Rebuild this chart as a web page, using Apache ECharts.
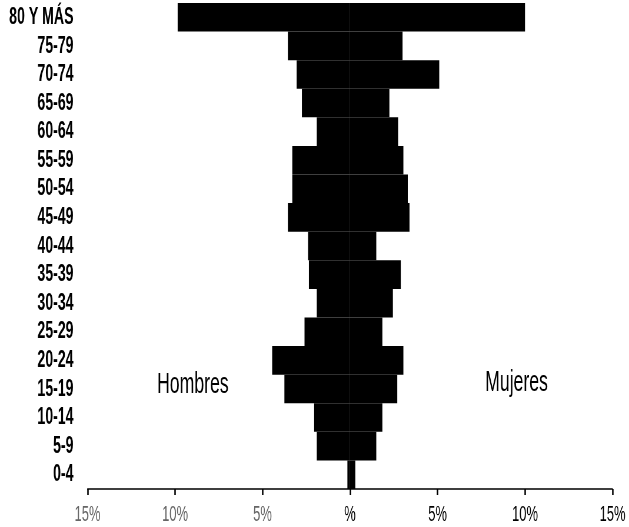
<!DOCTYPE html>
<html>
<head>
<meta charset="utf-8">
<script src="https://cdn.jsdelivr.net/npm/echarts@6/dist/echarts.min.js"></script>
<style>
  html, body { margin: 0; padding: 0; background: #fff; overflow: hidden; }
  /* the original uses a very condensed typeface: draw wider and squeeze horizontally */
  #chart { width: 1069px; height: 527px; transform: scaleX(0.5884); transform-origin: 0 0; }
</style>
</head>
<body>
<div id="chart"></div>
<script>
// grupos de edad, de abajo hacia arriba
const ageGroups = ['0-4', '5-9', '10-14', '15-19', '20-24', '25-29', '30-34', '35-39', '40-44',
  '45-49', '50-54', '55-59', '60-64', '65-69', '70-74', '75-79', '80 Y MÁS'];

// porcentajes
const hombres = [0.15, 1.9, 2.05, 3.75, 4.45, 2.6, 1.9, 2.35, 2.4, 3.55, 3.3, 3.3, 1.9, 2.75, 3.05, 3.55, 9.85];
const mujeres = [0.3, 1.5, 1.85, 2.7, 3.05, 1.85, 2.45, 2.9, 1.5, 3.4, 3.3, 3.05, 2.75, 2.25, 5.1, 3.0, 10.0];

const xTicks = [-15, -10, -5, 0, 5, 10, 15];
const xTickLabels = ['15%', '10%', '5%', '%', '5%', '10%', '15%'];

const font = "'Liberation Sans', Arial, sans-serif";
const k = 1.7; // horizontal stretch undone by the css scale

const chart = echarts.init(document.getElementById('chart'));

chart.setOption({
  backgroundColor: '#fff',
  animation: false,
  grid: { left: 87.5 * k, right: 16.5 * k, top: 3, bottom: 38, outerBoundsMode: 'none', containLabel: false },
  xAxis: {
    type: 'value',
    min: -15,
    max: 15,
    interval: 5,
    splitLine: { show: false },
    axisLine: { show: true, lineStyle: { color: '#000', width: 1.5 } },
    axisTick: { show: true, length: 6, lineStyle: { color: '#000', width: 1.5 * k } },
    axisLabel: {
      margin: 15,
      fontFamily: font,
      fontSize: 22,
      color: v => (v < 0 ? '#666' : '#000'),
      fontWeight: 'normal',
      formatter: v => xTickLabels[xTicks.indexOf(v)]
    }
  },
  yAxis: {
    type: 'category',
    data: ageGroups,
    axisLine: { show: false },
    axisTick: { show: false },
    axisLabel: {
      interval: 0,
      margin: 14 * k,
      fontFamily: font,
      fontSize: 24,
      fontWeight: 'bold',
      color: '#000'
    }
  },
  series: [
    {
      name: 'Hombres',
      type: 'bar',
      stack: 'total',
      barCategoryGap: '0%',
      itemStyle: { color: '#000' },
      data: hombres.map(v => -v)
    },
    {
      name: 'Mujeres',
      type: 'bar',
      stack: 'total',
      barCategoryGap: '0%',
      itemStyle: { color: '#000' },
      data: mujeres
    }
  ],
  graphic: [
    { type: 'text', left: 157 * k, top: 370, style: { text: 'Hombres', font: '30px ' + font, fill: '#000' } },
    { type: 'text', left: 485 * k, top: 368, style: { text: 'Mujeres', font: '30px ' + font, fill: '#000' } }
  ]
});
</script>
</body>
</html>
